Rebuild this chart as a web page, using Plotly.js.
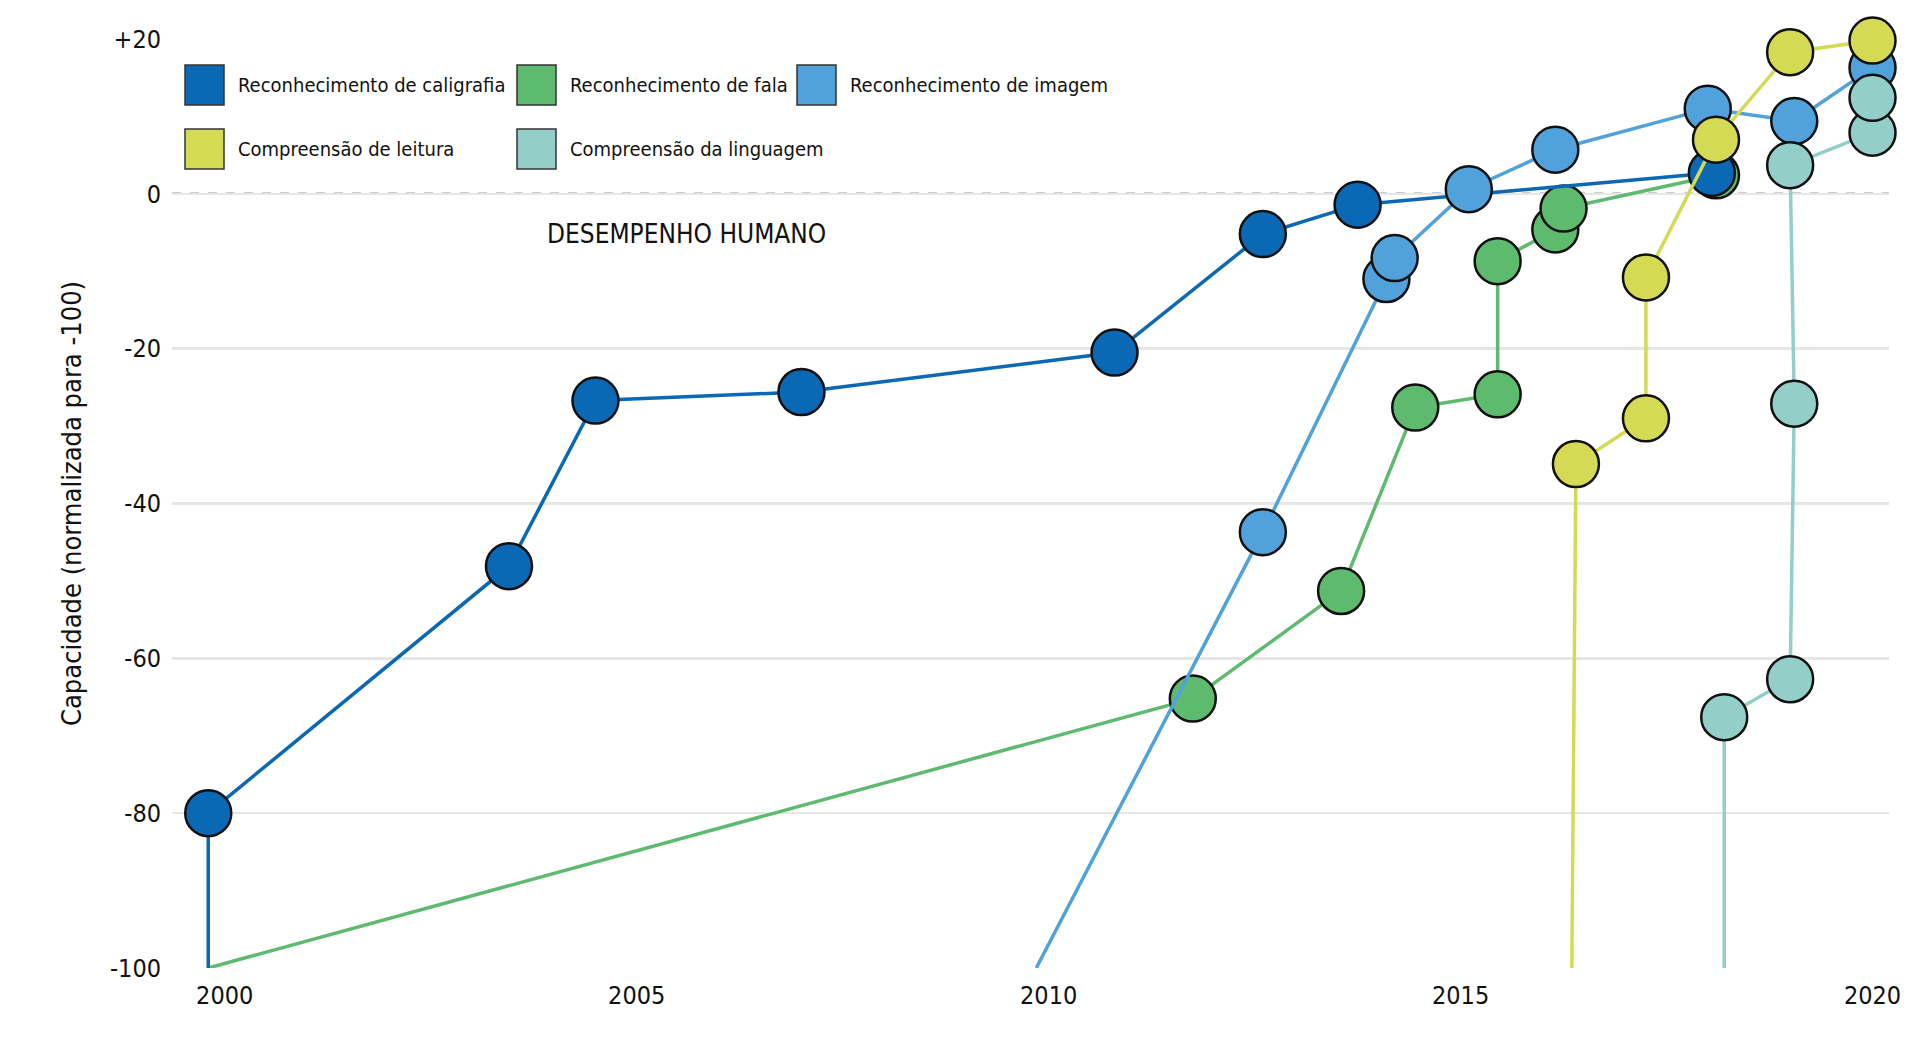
<!DOCTYPE html>
<html><head><meta charset="utf-8">
<script src="https://cdn.plot.ly/plotly-3.0.1.min.js"></script>
<style>html,body{margin:0;padding:0;background:#fff}#chart{width:1920px;height:1040px}</style>
</head><body><div id="chart"></div>
<script>
const seriesNames = ["Reconhecimento de caligrafia", "Reconhecimento de fala", "Reconhecimento de imagem", "Compreensão de leitura", "Compreensão da linguagem"];
const colors = ["#0a68b4", "#5dba6f", "#51a2db", "#d5da55", "#93cfc8"];

// handwriting
const hwX = [1999.8, 1999.8, 2003.45, 2004.5, 2007.0, 2010.8, 2012.6, 2013.75, 2018.05];
const hwY = [-100, -80, -48.1, -26.7, -25.6, -20.5, -5.2, -1.4, 2.7];
// speech
const spX = [1999.8, 2011.75, 2013.55, 2014.45, 2015.45, 2015.45, 2016.15, 2016.25, 2018.1];
const spY = [-100, -65.2, -51.3, -27.6, -25.9, -8.7, -4.6, -1.9, 2.4];
// image
const imX = [2009.85, 2012.6, 2014.1, 2014.2, 2015.1, 2016.15, 2018.0, 2019.05, 2020];
const imY = [-100, -43.7, -11, -8.3, 0.6, 5.7, 11, 9.4, 16.3];
// reading
const rdX = [2016.35, 2016.4, 2017.25, 2017.25, 2018.1, 2019.0, 2020];
const rdY = [-100, -34.9, -29, -10.8, 7, 18.3, 19.8];
// language
const lgX = [2018.2, 2018.2, 2019.0, 2019.05, 2019.0, 2020, 2020];
const lgY = [-100, -67.6, -62.7, -27.1, 3.7, 7.9, 12.4];

const yTicks = [20, 0, -20, -40, -60, -80, -100];
const yTickText = ["+20", "0", "-20", "-40", "-60", "-80", "-100"];
const xTicks = [2000, 2005, 2010, 2015, 2020];

const FONT = "'Liberation Sans Narrow', 'DejaVu Sans Condensed', 'Noto Sans', sans-serif";
const W = 1920, H = 1040, M = { l: 172, r: 31, t: 39, b: 72 };
const px = (x) => (x - M.l) / (W - M.l - M.r);
const py = (y) => 1 - (y - M.t) / (H - M.t - M.b);

function series(i, xs, ys, markStart) {
  const base = markStart ? [] : [0];
  return [
    { type: "scatter", mode: "lines", x: xs, y: ys, line: { color: colors[i], width: 3.5 }, hoverinfo: "skip", showlegend: false, cliponaxis: false },
    { type: "scatter", mode: "markers", x: xs.slice(markStart ? 0 : 1), y: ys.slice(markStart ? 0 : 1),
      marker: { color: colors[i], size: 46, line: { color: "#111", width: 2.5 } }, name: seriesNames[i], showlegend: false, cliponaxis: false },
  ];
}

const traces = [
  ...series(1, spX, spY, false),
  ...series(0, hwX, hwY, false),
  ...series(2, imX, imY, false),
  ...series(4, lgX, lgY, false),
  ...series(3, rdX, rdY, false),
];

// legend built from shapes + text
const legendPos = [[185, 65], [517, 65], [797, 65], [185, 129], [517, 129]];
const shapes = [{ type: "line", xref: "paper", x0: 0, x1: 1, yref: "y", y0: 0, y1: 0, line: { color: "#999", width: 2.5, dash: "dash" }, layer: "below" }];
const annotations = [{ x: 2005.6, y: -5.2, xref: "x", yref: "y", text: "DESEMPENHO HUMANO", showarrow: false, font: { family: FONT, size: 26, color: "#111" } }];
legendPos.forEach(([x, y], i) => {
  shapes.push({ type: "rect", xref: "paper", yref: "paper", x0: px(x), x1: px(x + 39), y0: py(y), y1: py(y + 40), fillcolor: colors[i], line: { color: "#333", width: 1.5 } });
  annotations.push({ xref: "paper", yref: "paper", x: px(x + 51), y: py(y + 20), xanchor: "left", yanchor: "middle", text: seriesNames[i], showarrow: false, font: { family: FONT, size: 20, color: "#111" } });
});

const layout = {
  width: W, height: H, margin: M,
  paper_bgcolor: "#fff", plot_bgcolor: "#fff",
  font: { family: FONT, color: "#111" },
  showlegend: false,
  xaxis: { range: [1999.36, 2020.2], tickvals: xTicks, ticks: "", showgrid: false, zeroline: false, showline: false, tickfont: { size: 25 }, ticklabelstandoff: 10 },
  yaxis: { range: [-100, 20], tickvals: yTicks, ticktext: yTickText, showgrid: true, gridcolor: "#e6e6e6", gridwidth: 2.5, zeroline: false, tickfont: { size: 25 }, ticklabelstandoff: 10,
    title: { text: "Capacidade (normalizada para -100)", font: { size: 27 }, standoff: 20 } },
  shapes, annotations,
};

Plotly.newPlot("chart", traces, layout, { displayModeBar: false, staticPlot: true });
</script></body></html>
